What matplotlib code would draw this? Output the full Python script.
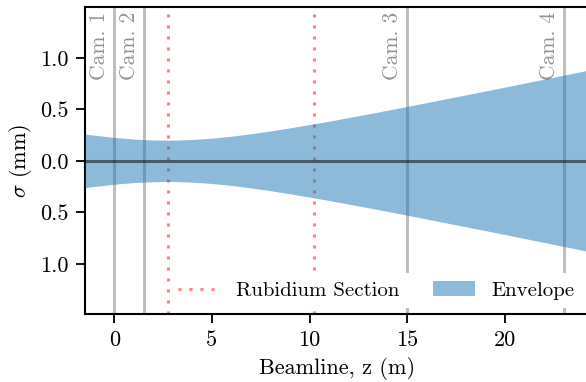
import numpy as np
import matplotlib
matplotlib.use("Agg")
import matplotlib.pyplot as plt
from matplotlib.ticker import FuncFormatter

plt.rcParams['font.family'] = 'serif'
plt.rcParams['font.serif'] = ['cmr10']
plt.rcParams['mathtext.fontset'] = 'cm'
plt.rcParams['axes.unicode_minus'] = False
plt.rcParams['font.size'] = 15

# beam envelope
z = [-1.5, -1, 0, 1, 2, 3, 4, 5, 6, 7, 8, 9, 10, 11, 12, 13, 14, 16, 18, 20, 22, 24, 24.5]
sigma = [0.26, 0.248, 0.227, 0.211, 0.202, 0.2, 0.207, 0.22, 0.239, 0.263, 0.29, 0.32,
         0.352, 0.385, 0.42, 0.455, 0.491, 0.565, 0.64, 0.715, 0.792, 0.869, 0.889]

cam_z = [0, 1.5, 15, 23]
cam_names = ["Cam. 1", "Cam. 2", "Cam. 3", "Cam. 4"]
rb_z = [2.75, 10.25]

z = np.array(z)
sigma = np.array(sigma)

fig = plt.figure(figsize=(5.86, 3.82), dpi=100)
ax = fig.add_axes([0.145, 0.177, 0.86, 0.804])

for cz, name in zip(cam_z, cam_names):
    ax.axvline(cz, color='gray', alpha=0.5, lw=2.2, zorder=1)
    ax.text(cz - 0.25, 1.45, name, rotation=90, ha='right', va='top',
            color='gray', alpha=0.85, fontsize=15.5)

for i, rz in enumerate(rb_z):
    ax.axvline(rz, color='red', alpha=0.5, lw=2.2, linestyle=(0, (1, 2.6)),
               label="Rubidium Section" if i == 0 else None, zorder=2)

ax.fill_between(z, -sigma, sigma, color='C0', alpha=0.5, lw=0, label="Envelope", zorder=3)
ax.axhline(0, color='black', alpha=0.5, lw=2.2, zorder=4)

ax.set_xlim(-1.5, 24.3)
ax.set_ylim(-1.49, 1.49)
ax.set_yticks([-1.0, -0.5, 0.0, 0.5, 1.0])
ax.yaxis.set_major_formatter(FuncFormatter(lambda v, p: "%.1f" % abs(v)))
ax.set_xticks([0, 5, 10, 15, 20])

for s in ['left', 'bottom', 'top']:
    ax.spines[s].set_linewidth(1.5)
ax.spines['right'].set_visible(False)
ax.tick_params(direction='out', length=6.5, width=1.3, top=False, right=False,
               labelsize=16, pad=5)

ax.set_xlabel("Beamline, z (m)", fontsize=16, labelpad=5)
ax.set_ylabel(r"$\sigma$ (mm)", fontsize=16, labelpad=5)

leg = ax.legend(loc='lower right', ncol=2, frameon=True, fancybox=False,
                framealpha=1.0, edgecolor='none', fontsize=15,
                borderaxespad=0.3, columnspacing=1.6)
leg.set_zorder(10)

fig.savefig("out.png", dpi=100)
